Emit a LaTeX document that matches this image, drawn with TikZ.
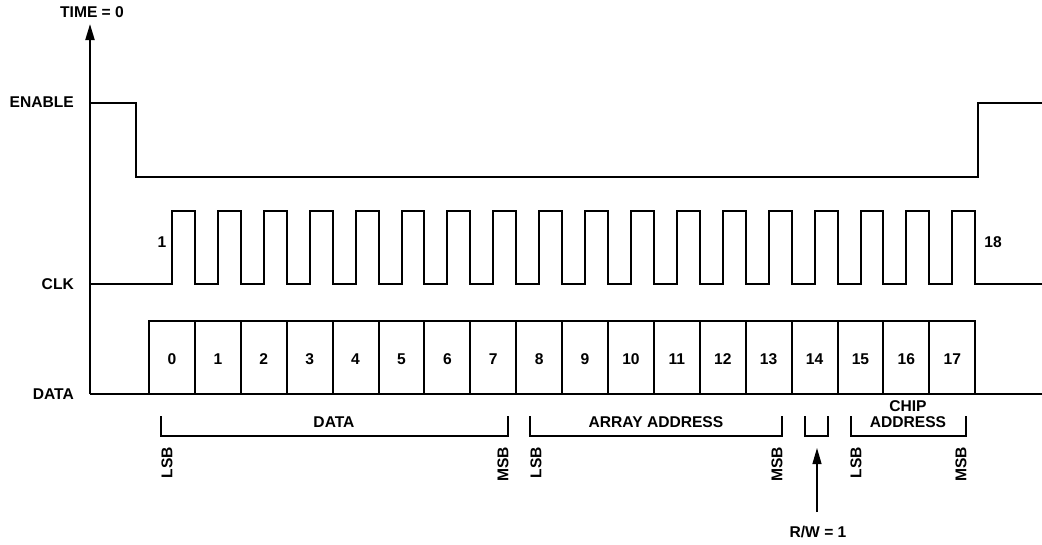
\documentclass[tikz,border=0pt]{standalone}
\usepackage{fontspec}
\setmainfont{Liberation Sans}
\usetikzlibrary{arrows.meta}
\begin{document}
\begin{tikzpicture}[x=1pt,y=-1pt,
  wave/.style={line width=2pt,line join=miter},
  lbl/.style={font=\fontsize{15.6}{16}\selectfont\bfseries,inner sep=0pt},
  sidelbl/.style={lbl,anchor=east},
  vlbl/.style={lbl,rotate=90,anchor=east},
  brk/.style={line width=2pt,line join=miter},
  tipa/.style={-{Triangle[length=16pt,width=9pt]}}]
\useasboundingbox (0,0) rectangle (1042,544);
% axis
\coordinate (axbot) at (90,394);
\coordinate (axtop) at (90,24);
\draw[wave,tipa] (axbot) -- (axtop);
\node[lbl] (time) at (92,12) {TIME = 0};
% labels
\node[sidelbl] (enl) at (74,102) {ENABLE};
\node[sidelbl] (clkl) at (74,284) {CLK};
\node[sidelbl] (datal) at (74,394) {DATA};
% enable
\draw[wave] (90,103) -- (136,103) -- (136,177) -- (978,177) -- (978,103) -- (1042,103);
% clock
\draw[wave] (90,284)
  \foreach \k in {0,...,17}{
    -- ({149+45.9*\k+23},284) -- ({149+45.9*\k+23},211)
    -- ({149+45.9*(\k+1)},211) -- ({149+45.9*(\k+1)},284)
  } -- (1042,284);
\node[lbl] (c1) at (162,242) {1};
\node[lbl] (c18) at (993,242) {18};
% data
\draw[wave] (90,394) -- (1042,394);
\foreach \k in {0,...,17}{
  \draw[wave] ({149+45.9*\k},394) rectangle ({149+45.9*(\k+1)},321);
  \node[lbl] (b\k) at ({149+45.9*\k+22.95},359) {\k};
}
% brackets
\draw[brk] (161,416) -- (161,436) -- (508,436) -- (508,416);
\node[lbl] (gdata) at (334,422) {DATA};
\draw[brk] (530,416) -- (530,436) -- (782,436) -- (782,416);
\node[lbl] (garr) at (656,422) {ARRAY ADDRESS};
\draw[brk] (805,416) -- (805,436) -- (828,436) -- (828,416);
\draw[brk] (851,416) -- (851,436) -- (966,436) -- (966,416);
\node[lbl,align=center] (gchip) at (908,414) {CHIP\\ADDRESS};
% LSB/MSB
\node[vlbl] (l1) at (167,447) {LSB};
\node[vlbl] (m1) at (503,447) {MSB};
\node[vlbl] (l2) at (536,447) {LSB};
\node[vlbl] (m2) at (777,447) {MSB};
\node[vlbl] (l3) at (856,447) {LSB};
\node[vlbl] (m3) at (961,447) {MSB};
% R/W arrow
\node[lbl] (rw) at (818,532) {R/W = 1};
\coordinate (rwtip) at (817,448);
\draw[line width=1.3pt,tipa] (817,512) -- (rwtip);
\end{tikzpicture}
\end{document}
